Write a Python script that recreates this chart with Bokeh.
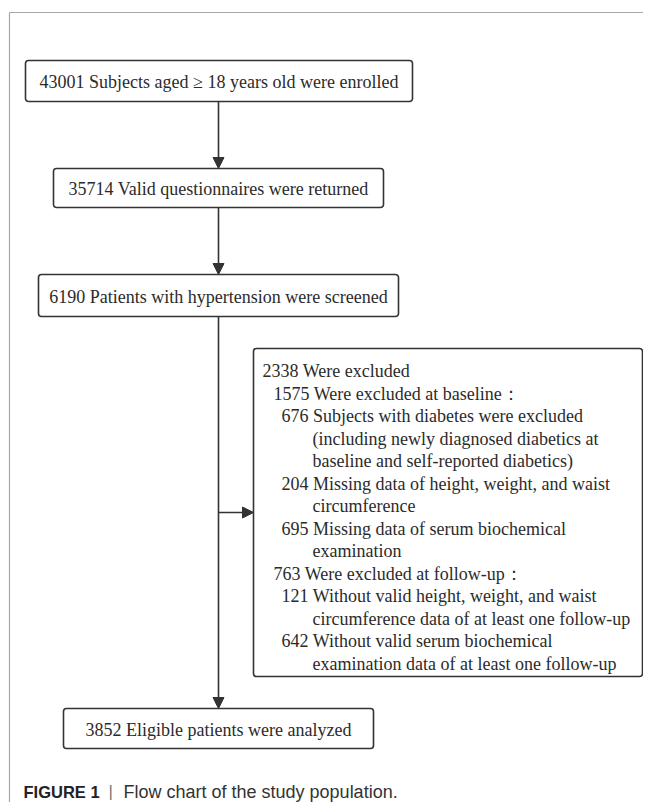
from bokeh.plotting import figure
from bokeh.models import Range1d, Arrow, NormalHead
from bokeh.core.properties import value
from bokeh.embed import file_html
from bokeh.resources import INLINE

# ---------------- data ----------------
main_counts = [43001, 35714, 6190, 3852]
main_labels = ["Subjects aged \u2265 18 years old were enrolled",
               "Valid questionnaires were returned",
               "Patients with hypertension were screened",
               "Eligible patients were analyzed"]

excl_lines = ["2338 Were excluded",
              "1575 Were excluded at baseline\uff1a",
              "676 Subjects with diabetes were excluded",
              "(including newly diagnosed diabetics at",
              "baseline and self-reported diabetics)",
              "204 Missing data of height, weight, and waist",
              "circumference",
              "695 Missing data of serum biochemical",
              "examination",
              "763 Were excluded at follow-up\uff1a",
              "121 Without valid height, weight, and waist",
              "circumference data of at least one follow-up",
              "642 Without valid serum biochemical",
              "examination data of at least one follow-up"]
excl_levels = [0, 1, 2, 3, 3, 2, 3, 2, 3, 1, 2, 3, 2, 3]

caption_bold = "FIGURE 1"
caption_text = "Flow chart of the study population."

# ---------------- layout (page pixels) ----------------
boxes = dict(left=[25, 53, 38, 63], right=[412, 383, 398, 373],
             top=[60, 168, 274, 708], bottom=[101, 207, 316, 748])
excl_box = dict(left=[253], right=[642], top=[348], bottom=[676])
indent_x = [262, 273, 281, 312]
line_y0, line_dy = 370.5, 22.5
cx = 218
arrow_y = 512

LINE = "#333333"
TXT = "#2b2b2b"
SERIF = value("'Liberation Serif', 'Times New Roman', Times, serif")
SANS = value("'Liberation Sans', Arial, Helvetica, sans-serif")

p = figure(width=643, height=802, output_backend="svg", toolbar_location=None,
           x_range=Range1d(0, 643), y_range=Range1d(802, 0),
           min_border=0, outline_line_color=None)
p.axis.visible = False
p.grid.visible = False
p.background_fill_color = "white"

# frame lines
p.segment(x0=[9, 9], y0=[12, 12], x1=[651, 9], y1=[12, 810],
          line_color="#a8a8a8", line_width=1.2)

# main boxes
p.quad(left=boxes["left"], right=boxes["right"], top=boxes["top"], bottom=boxes["bottom"],
       fill_color="white", line_color=LINE, line_width=1.6, border_radius=3)
p.quad(left=excl_box["left"], right=excl_box["right"], top=excl_box["top"],
       bottom=excl_box["bottom"], fill_color="white", line_color=LINE,
       line_width=1.6, border_radius=3)

main_text = [f"{c} {l}" for c, l in zip(main_counts, main_labels)]
tx = [(l + r) / 2 for l, r in zip(boxes["left"], boxes["right"])]
ty = [(t + b) / 2 + 1 for t, b in zip(boxes["top"], boxes["bottom"])]
p.text(x=tx, y=ty, text=main_text, text_align="center", text_baseline="middle",
       text_font=SERIF, text_font_size="18px", text_color=TXT)

ex_x = [indent_x[l] for l in excl_levels]
ex_y = [line_y0 + i * line_dy for i in range(len(excl_lines))]
p.text(x=ex_x, y=ex_y, text=excl_lines, text_align="left", text_baseline="middle",
       text_font=SERIF, text_font_size="18px", text_color=TXT)

# connectors
head = dict(size=11, fill_color=LINE, line_color=LINE)
for i in range(3):
    p.add_layout(Arrow(end=NormalHead(**head), x_start=cx, y_start=boxes["bottom"][i],
                       x_end=cx, y_end=boxes["top"][i + 1],
                       line_color=LINE, line_width=1.6))
p.add_layout(Arrow(end=NormalHead(**head), x_start=cx, y_start=arrow_y,
                   x_end=excl_box["left"][0], y_end=arrow_y,
                   line_color=LINE, line_width=1.6))

# caption
cap_y = 791
p.text(x=[23], y=[cap_y], text=[caption_bold], text_align="left", text_baseline="middle",
       text_font=SANS, text_font_style="bold",
       text_font_size="16.5px", text_color="#222222")
p.text(x=[108], y=[cap_y], text=["|"], text_align="left", text_baseline="middle",
       text_font=SANS, text_font_size="17px", text_color="#777777")
p.text(x=[123], y=[cap_y], text=[caption_text], text_align="left", text_baseline="middle",
       text_font=SANS, text_font_size="18px", text_color="#333333")

open("out.html", "w").write(file_html(p, INLINE))
